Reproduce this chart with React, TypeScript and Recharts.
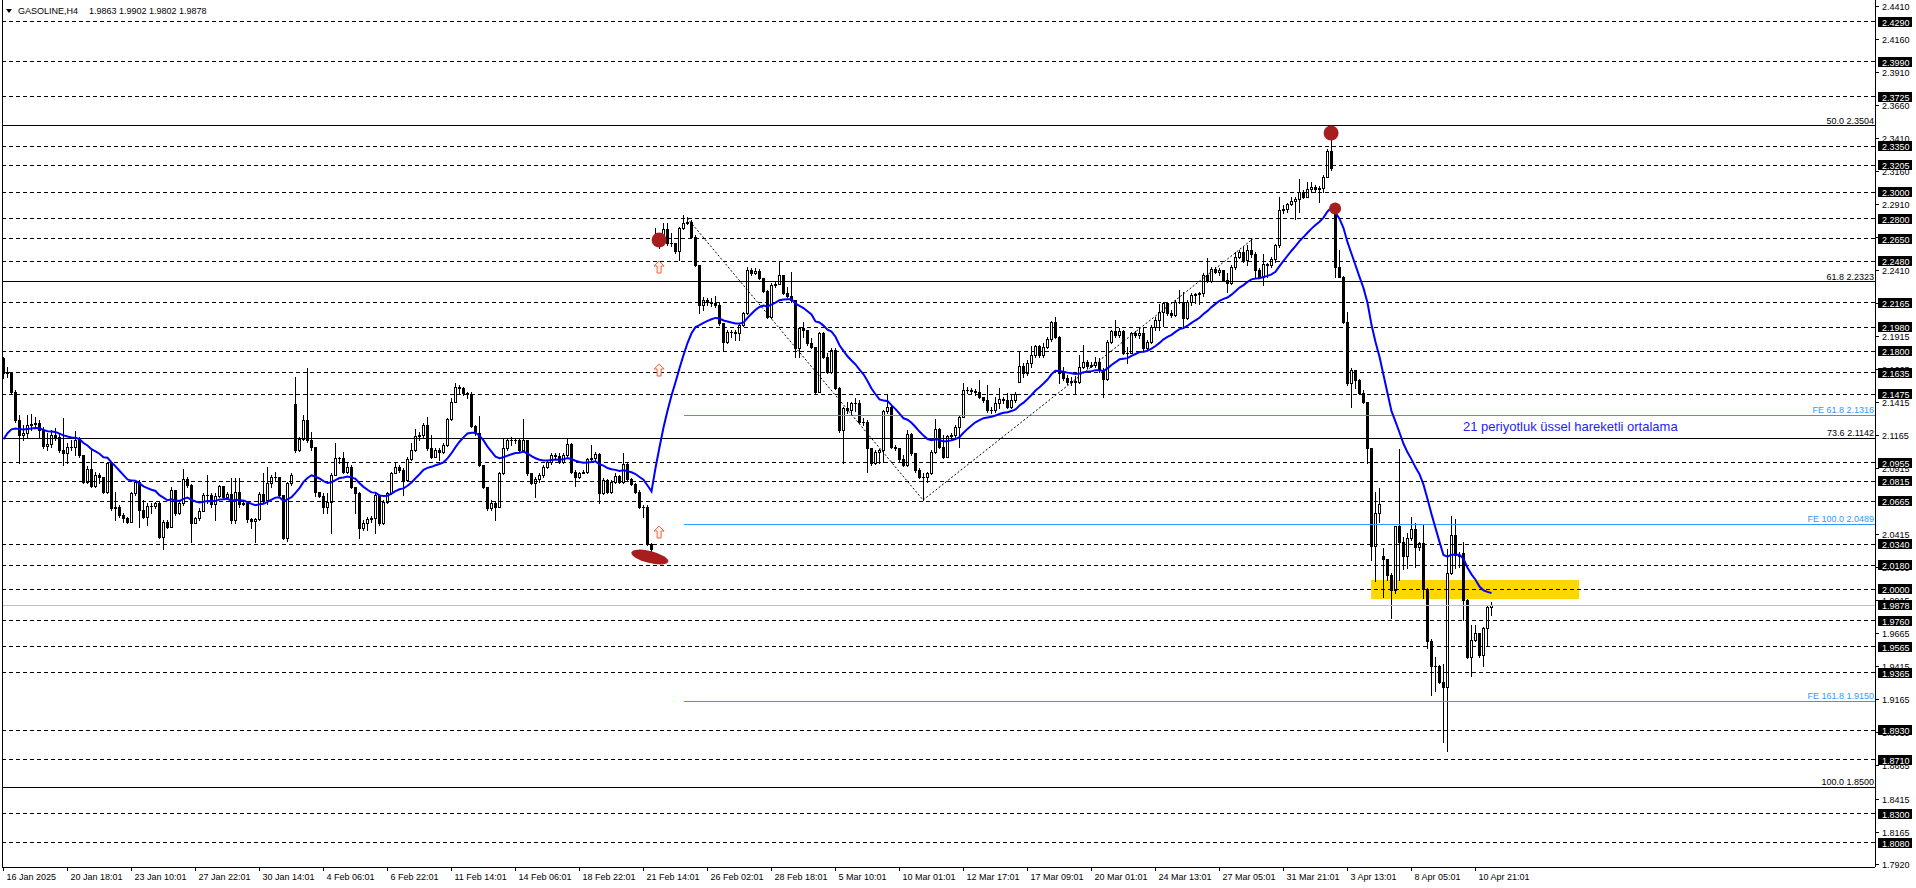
import React from 'react';
import {
  ComposedChart,
  Bar,
  Line,
  XAxis,
  YAxis,
  ReferenceLine,
  ReferenceArea,
  ReferenceDot,
} from 'recharts';

// ---------------- data (GASOLINE, H4) ----------------
const closes = [
  2.1632, 2.1639, 2.1493, 2.1279, 2.1166, 2.1178, 2.1241, 2.1249, 2.1254, 2.1203,
  2.1082, 2.1098, 2.1166, 2.1153, 2.1052, 2.1027, 2.1072, 2.1077, 2.1128, 2.1014,
  2.0813, 2.0906, 2.078, 2.0863, 2.085, 2.0737, 2.0951, 2.0611, 2.0623, 2.056,
  2.0535, 2.051, 2.0724, 2.0813, 2.0598, 2.0548, 2.0629, 2.0629, 2.0649, 2.0392,
  2.051, 2.0472, 2.075, 2.0573, 2.0649, 2.083, 2.0788, 2.0502, 2.0535, 2.0593,
  2.0712, 2.0712, 2.0644, 2.0704, 2.078, 2.0699, 2.0719, 2.0523, 2.0737, 2.0644,
  2.0649, 2.0528, 2.0518, 2.053, 2.0719, 2.0674, 2.08, 2.085, 2.0845, 2.0712,
  2.0384, 2.08, 2.0863, 2.1052, 2.1133, 2.1279, 2.1128, 2.1072, 2.0737, 2.0704,
  2.0623, 2.0661, 2.0863, 2.0989, 2.0989, 2.0888, 2.0926, 2.0775, 2.0729, 2.046,
  2.0502, 2.0528, 2.0535, 2.0712, 2.0497, 2.0661, 2.0724, 2.0881, 2.0926, 2.0901,
  2.0825, 2.0982, 2.1052, 2.1161, 2.1166, 2.1241, 2.1065, 2.1002, 2.1052, 2.104,
  2.109, 2.1284, 2.1418, 2.1531, 2.1524, 2.1481, 2.1473, 2.1234, 2.1178, 2.0939,
  2.077, 2.0611, 2.0654, 2.0623, 2.0876, 2.1065, 2.1128, 2.1128, 2.1128, 2.1052,
  2.1128, 2.0876, 2.0805, 2.083, 2.0863, 2.0926, 2.0964, 2.1014, 2.1007, 2.0964,
  2.1014, 2.1098, 2.0888, 2.085, 2.0876, 2.0888, 2.0982, 2.0989, 2.1022, 2.0724,
  2.0825, 2.0737, 2.0813, 2.0856, 2.0813, 2.0946, 2.083, 2.0795, 2.0737, 2.0623,
  2.0623, 2.0341, 2.0301, 2.2679, 2.2641, 2.2721, 2.2616, 2.2616, 2.256, 2.2729,
  2.2767, 2.2779, 2.2666, 2.2452, 2.2149, 2.2187, 2.2174, 2.2167, 2.2149, 2.2011,
  2.1872, 2.1948, 2.1948, 2.1935, 2.1998, 2.2086, 2.2414, 2.2389, 2.2406, 2.2351,
  2.2258, 2.2061, 2.2301, 2.2308, 2.2376, 2.2243, 2.2217, 2.2187, 2.1822, 2.1973,
  2.196, 2.1859, 2.1834, 2.1494, 2.194, 2.1759, 2.1645, 2.1809, 2.1519, 2.1204,
  2.1368, 2.1355, 2.1406, 2.1406, 2.1267, 2.1267, 2.1065, 2.0952, 2.104, 2.1048,
  2.1343, 2.138, 2.1078, 2.1065, 2.0982, 2.0939, 2.1174, 2.1027, 2.0901, 2.0851,
  2.0851, 2.0876, 2.104, 2.1209, 2.1078, 2.1002, 2.1154, 2.1166, 2.1229, 2.1305,
  2.1506, 2.1506, 2.1501, 2.1494, 2.1451, 2.1431, 2.1355, 2.1355, 2.1406, 2.1436,
  2.1431, 2.138, 2.1431, 2.1476, 2.1688, 2.1632, 2.1713, 2.1771, 2.1839, 2.1771,
  2.1834, 2.189, 2.2023, 2.191, 2.1632, 2.1595, 2.1569, 2.1577, 2.1569, 2.1683,
  2.1721, 2.1688, 2.1695, 2.1721, 2.1658, 2.1587, 2.1872, 2.1955, 2.1922, 2.1955,
  2.1789, 2.1789, 2.1935, 2.1922, 2.1935, 2.1821, 2.1872, 2.1985, 2.2036, 2.2099,
  2.2162, 2.2091, 2.2074, 2.2174, 2.2174, 2.2048, 2.2174, 2.2225, 2.2232, 2.2237,
  2.2376, 2.2333, 2.2419, 2.2401, 2.2414, 2.2338, 2.2313, 2.2439, 2.2515, 2.2553,
  2.249, 2.2565, 2.2535, 2.2414, 2.2364, 2.2459, 2.2452, 2.2495, 2.2603, 2.2868,
  2.2873, 2.2913, 2.2938, 2.2948, 2.3006, 2.2969, 2.3024, 2.3039, 2.3024, 2.3032,
  2.312, 2.3316, 2.3183, 2.2439, 2.2364, 2.2023, 2.1557, 2.1658, 2.1582, 2.1486,
  2.1418, 2.1065, 2.0326, 2.0573, 2.0644, 2.0226, 2.0107, 1.9994, 2.0473, 2.0359,
  2.0246, 2.0384, 2.0452, 2.0316, 2.0347, 1.9999, 1.9603, 1.9419, 1.9419, 1.93,
  1.9262, 2.012, 2.041, 2.0258, 2.0251, 1.9918, 1.9489, 1.9615, 1.9666, 1.9502,
  1.9704, 1.9863, 1.9878,
];

const highs = [
  2.1758, 2.1682, 2.1644, 2.1506, 2.1317, 2.1241, 2.1317, 2.1324, 2.1299, 2.1279,
  2.1229, 2.1178, 2.1203, 2.1216, 2.1178, 2.1292, 2.1103, 2.1128, 2.1198, 2.1153,
  2.1014, 2.0931, 2.1052, 2.0888, 2.0876, 2.085, 2.0964, 2.0951, 2.0737, 2.0636,
  2.0573, 2.0548, 2.0737, 2.0825, 2.0825, 2.0674, 2.0649, 2.0649, 2.0661, 2.0661,
  2.0523, 2.0523, 2.0775, 2.075, 2.0661, 2.0906, 2.085, 2.0795, 2.0548, 2.0611,
  2.0724, 2.0863, 2.0724, 2.0724, 2.0788, 2.0775, 2.0737, 2.0838, 2.0838, 2.0838,
  2.0674, 2.0649, 2.0535, 2.0535, 2.0737, 2.0876, 2.0926, 2.0863, 2.0888, 2.083,
  2.0712, 2.0813, 2.0876, 2.1607, 2.1153, 2.1317, 2.167, 2.1191, 2.1077, 2.0737,
  2.0724, 2.0729, 2.0876, 2.1103, 2.1002, 2.104, 2.0951, 2.0939, 2.0775, 2.0737,
  2.0523, 2.0548, 2.0553, 2.0724, 2.0712, 2.0674, 2.0737, 2.0888, 2.0951, 2.0939,
  2.0913, 2.1002, 2.1103, 2.1208, 2.1191, 2.1254, 2.1299, 2.1166, 2.1065, 2.1065,
  2.1103, 2.1292, 2.1443, 2.1561, 2.1544, 2.1531, 2.1493, 2.1493, 2.1241, 2.1309,
  2.0939, 2.075, 2.0674, 2.0661, 2.0888, 2.1133, 2.114, 2.1153, 2.114, 2.114,
  2.1284, 2.1128, 2.0881, 2.085, 2.0881, 2.0939, 2.0977, 2.1027, 2.1032, 2.1027,
  2.1027, 2.114, 2.1103, 2.0901, 2.0888, 2.0901, 2.0989, 2.109, 2.104, 2.1027,
  2.0838, 2.083, 2.0825, 2.0876, 2.0863, 2.1032, 2.0951, 2.0838, 2.08, 2.075,
  2.0636, 2.0636, 2.0346, 2.2729, 2.2696, 2.2767, 2.2767, 2.2696, 2.2621, 2.2742,
  2.283, 2.2817, 2.2792, 2.2679, 2.2452, 2.2212, 2.22, 2.22, 2.2217, 2.2162,
  2.2011, 2.196, 2.196, 2.196, 2.2011, 2.2099, 2.2439, 2.2427, 2.2427, 2.2419,
  2.2351, 2.2263, 2.2313, 2.2326, 2.2482, 2.2376, 2.2288, 2.2401, 2.2187, 2.1985,
  2.2023, 2.196, 2.1897, 2.1834, 2.1948, 2.1948, 2.1784, 2.1822, 2.1822, 2.1532,
  2.138, 2.1418, 2.1418, 2.1443, 2.1431, 2.1292, 2.1279, 2.1065, 2.1053, 2.1058,
  2.1355, 2.1469, 2.1393, 2.109, 2.1065, 2.1015, 2.1204, 2.1179, 2.1032, 2.0914,
  2.0876, 2.0889, 2.1053, 2.1285, 2.1216, 2.1166, 2.1166, 2.1184, 2.1242, 2.1317,
  2.1557, 2.1532, 2.1519, 2.1511, 2.1582, 2.1456, 2.1544, 2.138, 2.1456, 2.1519,
  2.1456, 2.1486, 2.1469, 2.1494, 2.1796, 2.1708, 2.1733, 2.1839, 2.1847, 2.1847,
  2.1859, 2.191, 2.2031, 2.2061, 2.1915, 2.1683, 2.162, 2.1607, 2.1612, 2.1771,
  2.1847, 2.1733, 2.1721, 2.1758, 2.1746, 2.167, 2.1884, 2.196, 2.2036, 2.1973,
  2.196, 2.1829, 2.1948, 2.1955, 2.1973, 2.1973, 2.1884, 2.1998, 2.2061, 2.2157,
  2.2174, 2.2111, 2.2111, 2.2187, 2.2263, 2.225, 2.2187, 2.2237, 2.2242, 2.225,
  2.2389, 2.2502, 2.2439, 2.2434, 2.2427, 2.2389, 2.2389, 2.2452, 2.2553, 2.2565,
  2.2585, 2.2603, 2.2653, 2.2553, 2.2427, 2.2535, 2.2464, 2.2515, 2.2611, 2.2964,
  2.2906, 2.2923, 2.2964, 2.2964, 2.31, 2.3019, 2.3082, 2.3082, 2.3057, 2.3049,
  2.3132, 2.3327, 2.3465, 2.2893, 2.2565, 2.2369, 2.2099, 2.167, 2.1658, 2.1587,
  2.1506, 2.1418, 2.1057, 2.0737, 2.0762, 2.0309, 2.022, 2.012, 2.0478, 2.1057,
  2.0397, 2.0422, 2.0543, 2.0503, 2.0359, 2.0485, 2.0006, 1.962, 1.9484, 1.9426,
  1.9434, 2.0301, 2.0553, 2.0528, 2.0283, 2.0352, 1.9923, 1.9729, 1.9729, 1.9671,
  1.9716, 1.9873, 1.9902,
];

const lows = [
  2.1594, 2.1607, 2.1481, 2.1266, 2.0956, 2.1128, 2.1153, 2.1203, 2.1216, 2.1153,
  2.1065, 2.1052, 2.1077, 2.1128, 2.104, 2.0939, 2.0956, 2.1052, 2.1014, 2.1002,
  2.0805, 2.08, 2.0775, 2.0775, 2.08, 2.0729, 2.0724, 2.0598, 2.0523, 2.0548,
  2.051, 2.0502, 2.051, 2.0712, 2.0472, 2.0535, 2.0485, 2.0573, 2.0611, 2.0384,
  2.0301, 2.046, 2.0472, 2.056, 2.0568, 2.0636, 2.0775, 2.0359, 2.0497, 2.0523,
  2.0593, 2.0649, 2.0623, 2.0523, 2.0699, 2.0679, 2.0687, 2.0497, 2.0497, 2.0623,
  2.0636, 2.051, 2.046, 2.0359, 2.0523, 2.0649, 2.0644, 2.077, 2.082, 2.0699,
  2.0376, 2.0366, 2.0788, 2.104, 2.1047, 2.1128, 2.1115, 2.1052, 2.0704, 2.0699,
  2.0573, 2.0573, 2.0422, 2.0863, 2.0951, 2.0876, 2.0876, 2.0762, 2.0573, 2.0384,
  2.0447, 2.0447, 2.051, 2.0422, 2.0485, 2.0492, 2.0649, 2.0719, 2.0876, 2.0888,
  2.0712, 2.082, 2.0977, 2.1047, 2.1128, 2.1153, 2.1052, 2.0989, 2.0997, 2.0977,
  2.1027, 2.1082, 2.1279, 2.1418, 2.1481, 2.1468, 2.1443, 2.1224, 2.1166, 2.0931,
  2.0762, 2.0598, 2.0598, 2.0523, 2.0618, 2.0871, 2.1052, 2.109, 2.1103, 2.104,
  2.1047, 2.0863, 2.0795, 2.0699, 2.0813, 2.085, 2.0913, 2.0946, 2.0989, 2.0956,
  2.0951, 2.1007, 2.0876, 2.078, 2.0838, 2.0876, 2.0876, 2.0972, 2.0972, 2.0649,
  2.0719, 2.0724, 2.0729, 2.0805, 2.08, 2.0805, 2.082, 2.0788, 2.0724, 2.0611,
  2.0548, 2.0334, 2.022, 2.2628, 2.2578, 2.2666, 2.2603, 2.2595, 2.2545, 2.249,
  2.2721, 2.2762, 2.2661, 2.2444, 2.2086, 2.2111, 2.2149, 2.2142, 2.2137, 2.1998,
  2.1809, 2.1864, 2.191, 2.1885, 2.1885, 2.199, 2.2081, 2.2376, 2.2384, 2.2343,
  2.225, 2.2048, 2.2048, 2.2283, 2.2326, 2.2232, 2.2207, 2.2174, 2.1759, 2.1759,
  2.191, 2.1847, 2.1822, 2.1486, 2.1494, 2.1746, 2.1637, 2.1632, 2.1511, 2.1191,
  2.0952, 2.133, 2.1317, 2.1343, 2.1254, 2.1242, 2.0889, 2.0939, 2.0947, 2.0952,
  2.0964, 2.1335, 2.1065, 2.1053, 2.0972, 2.0927, 2.0932, 2.1015, 2.0889, 2.0838,
  2.0675, 2.0806, 2.0871, 2.1032, 2.1065, 2.099, 2.0997, 2.1133, 2.1149, 2.1073,
  2.13, 2.1481, 2.1476, 2.1469, 2.1443, 2.1418, 2.1342, 2.133, 2.1342, 2.1368,
  2.1406, 2.1368, 2.1368, 2.1418, 2.1569, 2.1607, 2.162, 2.1678, 2.1758, 2.1758,
  2.1758, 2.1821, 2.188, 2.1897, 2.1557, 2.1582, 2.1552, 2.1544, 2.1481, 2.1562,
  2.167, 2.167, 2.1683, 2.1678, 2.1645, 2.1456, 2.1582, 2.1859, 2.191, 2.191,
  2.1779, 2.1713, 2.1796, 2.1905, 2.1897, 2.1809, 2.1809, 2.1859, 2.196, 2.196,
  2.199, 2.2074, 2.2061, 2.2066, 2.2162, 2.1973, 2.2041, 2.2149, 2.2162, 2.2157,
  2.2217, 2.2326, 2.2326, 2.2389, 2.2376, 2.2333, 2.225, 2.2308, 2.2419, 2.2502,
  2.2477, 2.2452, 2.2515, 2.2351, 2.2351, 2.23, 2.2364, 2.2439, 2.2477, 2.259,
  2.2848, 2.2855, 2.2906, 2.2797, 2.2855, 2.2956, 2.2964, 2.3006, 2.3006, 2.2931,
  2.3006, 2.3115, 2.317, 2.2364, 2.2359, 2.2011, 2.1544, 2.138, 2.1519, 2.1476,
  2.1406, 2.0952, 2.022, 2.0057, 2.051, 1.9938, 2.0069, 1.9779, 1.9968, 2.0069,
  2.015, 2.0157, 2.0372, 2.0165, 2.0296, 1.9931, 1.9552, 1.9199, 1.9232, 1.9288,
  1.8839, 1.8771, 2.0115, 2.0157, 2.017, 1.9767, 1.9477, 1.9343, 1.9603, 1.9484,
  1.9419, 1.9578, 1.9802,
];

// bars whose open is not the previous close (session gaps)
const gapOpenIndex = [0, 73, 163, 254, 333, 345, 365];
const gapOpenValue = [2.1745, 2.14, 2.265, 2.1569, 2.288, 2.0246, 2.0276];

// 21-period EMA, starting value
const emaPeriod = 21;
const emaStart = 2.1133;

const dateLabels = [
  '16 Jan 2025', '20 Jan 18:01', '23 Jan 10:01', '27 Jan 22:01', '30 Jan 14:01',
  '4 Feb 06:01', '6 Feb 22:01', '11 Feb 14:01', '14 Feb 06:01', '18 Feb 22:01',
  '21 Feb 14:01', '26 Feb 02:01', '28 Feb 18:01', '5 Mar 10:01', '10 Mar 01:01',
  '12 Mar 17:01', '17 Mar 09:01', '20 Mar 01:01', '24 Mar 13:01', '27 Mar 05:01',
  '31 Mar 21:01', '3 Apr 13:01', '8 Apr 05:01', '10 Apr 21:01',
];
const barsPerLabel = 16;

const priceTicks = [
  2.441, 2.416, 2.391, 2.366, 2.341, 2.316, 2.291, 2.266, 2.241, 2.216, 2.1915,
  2.1665, 2.1415, 2.1165, 2.0915, 2.0415, 2.0165, 1.9915, 1.9665, 1.9415, 1.9165,
  1.8915, 1.8665, 1.8415, 1.8165, 1.792,
];
const markedLevels = [
  2.429, 2.399, 2.3725, 2.335, 2.3205, 2.3, 2.28, 2.265, 2.248, 2.2165, 2.198, 2.18,
  2.1635, 2.1475, 2.0955, 2.0815, 2.0665, 2.034, 2.018, 2.0, 1.976, 1.9565, 1.9365,
  1.893, 1.871, 1.83, 1.808,
];
const lastPrice = 1.9878;

const fibLevels = [2.3504, 2.2323, 2.1142, 1.85];
const fibNames = ['50.0', '61.8', '73.6', '100.0'];
const feLevels = [2.1316, 2.0489, 1.915];
const feNames = ['FE 61.8', 'FE 100.0', 'FE 161.8'];
const feStartBar = 170;
const fePointX = [170.9, 229.9, 312.4];
const fePointY = [2.2807, 2.0673, 2.265];

const zoneX = [341.9, 393.9];
const zoneY = [1.9924, 2.0068];

const blobX = [163.9, 331.9, 332.9];
const blobY = [2.264, 2.345, 2.2879];
const blobR = [7.5, 7.5, 6];
const ovalX = 161.6;
const ovalY = 2.0242;
const arrowX = [163.9, 163.9, 163.9];
const arrowY = [2.2436, 2.1657, 2.0431];

// ---------------- layout constants ----------------
const W = 1916;
const H = 888;
const X_MIN = -0.375;
const X_MAX = 467.875;
const Y_MIN = 1.7897;
const Y_MAX = 2.4456;
const FONT = '"Liberation Sans", Arial, Helvetica, sans-serif';
const FE_BLUE = '#3399ff';
const RED = '#a81e1e';

type Row = { i: number; o: number; h: number; l: number; c: number; ema: number };
const data: Row[] = [];
{
  let e = emaStart;
  const k = 2 / (emaPeriod + 1);
  closes.forEach((c, i) => {
    const g = gapOpenIndex.indexOf(i);
    const o = g >= 0 ? gapOpenValue[g] : closes[i - 1];
    if (i > 0) e = e + k * (c - e);
    data.push({ i, o, h: highs[i], l: lows[i], c, ema: e });
  });
}
const boxedLevels = [...markedLevels, lastPrice];
const xTicks = dateLabels.map((_, k) => k * barsPerLabel);
const yTicks = [...priceTicks, ...boxedLevels];

function Candle(props: any) {
  const { x, y, width, height, payload } = props;
  if (!payload || x == null || y == null) return null;
  const { o, h, l, c } = payload as Row;
  const top = Math.min(y, y + height);
  const bot = Math.max(y, y + height);
  const py = (v: number) => top + ((h - v) / (h - l)) * (bot - top);
  const cx = Math.floor(x + width / 2);
  const yHi = Math.round(py(Math.max(h, o, c)));
  const yLo = Math.round(py(Math.min(l, o, c)));
  const yO = Math.round(py(o));
  const yC = Math.round(py(c));
  const els: React.ReactNode[] = [
    <rect key="w" x={cx} y={yHi} width={1} height={Math.max(1, yLo - yHi + 1)} fill="#000" />,
  ];
  if (c > o) {
    els.push(<rect key="b" x={cx - 1} y={yC} width={3} height={yO - yC + 1} fill="#000" />);
    if (yO - yC >= 2)
      els.push(<rect key="i" x={cx} y={yC + 1} width={1} height={yO - yC - 1} fill="#fff" />);
  } else {
    els.push(
      <rect key="b" x={cx - 1} y={yO} width={3} height={Math.max(1, yC - yO + 1)} fill="#000" />
    );
  }
  return <g>{els}</g>;
}

function RightTick(props: any) {
  const { x, y, payload } = props;
  const v = payload.value as number;
  const label = v.toFixed(4);
  if (boxedLevels.includes(v)) {
    const yy = Math.round(y);
    return (
      <g>
        <rect x={x + 3} y={yy - 5} width={34} height={10} fill="#000" />
        <text x={x + 7} y={yy + 3.5} fontSize={9} fontFamily={FONT} fill="#fff">
          {label}
        </text>
      </g>
    );
  }
  const yy = Math.round(y) + 0.5;
  return (
    <g>
      <line x1={x} x2={x + 4} y1={yy} y2={yy} stroke="#000" strokeWidth={1} />
      <text x={x + 7} y={yy + 3.5} fontSize={9} fontFamily={FONT} fill="#000">
        {label}
      </text>
    </g>
  );
}

function BottomTick(props: any) {
  const { x, y, payload } = props;
  const idx = xTicks.indexOf(payload.value);
  const xx = Math.floor(x) + 0.5;
  return (
    <g>
      <line x1={xx} x2={xx} y1={y} y2={y + 4} stroke="#000" strokeWidth={1} />
      <text x={xx + 3} y={y + 13} fontSize={9} fontFamily={FONT} fill="#000">
        {dateLabels[idx]}
      </text>
    </g>
  );
}

const levelText = (text: string, color: string) => (p: any) => (
  <text x={p.cx - 1} y={p.cy - 2} textAnchor="end" fontSize={9} fontFamily={FONT} fill={color}>
    {text}
  </text>
);

const arrowShape = (p: any) => {
  const { cx, cy } = p;
  const pts = [
    [0, -6],
    [5, -1],
    [2, -1],
    [2, 6],
    [-2, 6],
    [-2, -1],
    [-5, -1],
  ]
    .map(([a, b]) => `${cx + a},${cy + b}`)
    .join(' ');
  return <polygon points={pts} fill="#fff3ec" stroke="#f0603c" strokeWidth={1} />;
};

const ovalShape = (p: any) => (
  <ellipse
    cx={p.cx}
    cy={p.cy}
    rx={19}
    ry={6}
    fill={RED}
    transform={`rotate(14 ${p.cx} ${p.cy})`}
  />
);

export default function App() {
  return (
    <div
      style={{
        position: 'absolute',
        left: 0,
        top: 0,
        width: W,
        height: H,
        background: '#fff',
        overflow: 'hidden',
      }}
    >
      <ComposedChart
        width={W}
        height={H}
        data={data}
        margin={{ top: 0, right: 0, bottom: 0, left: 2 }}
      >
        <XAxis
          dataKey="i"
          type="number"
          domain={[X_MIN, X_MAX]}
          allowDataOverflow
          ticks={xTicks}
          interval={0}
          tick={<BottomTick />}
          tickLine={false}
          tickSize={0}
          tickMargin={0}
          height={21}
          axisLine={{ stroke: '#000', strokeWidth: 1, shapeRendering: 'crispEdges' }}
        />
        <YAxis
          orientation="right"
          type="number"
          domain={[Y_MIN, Y_MAX]}
          allowDataOverflow
          ticks={yTicks}
          interval={0}
          tick={<RightTick />}
          tickLine={false}
          tickSize={0}
          tickMargin={0}
          width={41}
          axisLine={{ stroke: '#000', strokeWidth: 1, shapeRendering: 'crispEdges' }}
        />

        <ReferenceArea
          x1={zoneX[0]}
          x2={zoneX[1]}
          y1={zoneY[0]}
          y2={zoneY[1]}
          fill="#ffd700"
          fillOpacity={1}
          stroke="none"
        />

        {markedLevels.map((v) => (
          <ReferenceLine
            key={'d' + v}
            y={v}
            stroke="#000"
            strokeWidth={1}
            strokeDasharray="4 3"
            shapeRendering="crispEdges"
          />
        ))}
        <ReferenceLine y={lastPrice} stroke="#c0c0c0" strokeWidth={1} shapeRendering="crispEdges" />
        {fibLevels.map((v) => (
          <ReferenceLine key={'f' + v} y={v} stroke="#000" strokeWidth={1} shapeRendering="crispEdges" />
        ))}
        {feLevels.map((v) => (
          <ReferenceLine
            key={'e' + v}
            segment={[
              { x: feStartBar, y: v },
              { x: X_MAX, y: v },
            ]}
            stroke={FE_BLUE}
            strokeWidth={1}
            shapeRendering="crispEdges"
          />
        ))}
        <ReferenceLine
          segment={[
            { x: fePointX[0], y: fePointY[0] },
            { x: fePointX[1], y: fePointY[1] },
          ]}
          stroke="#000"
          strokeWidth={1}
          strokeDasharray="2 2"
        />
        <ReferenceLine
          segment={[
            { x: fePointX[1], y: fePointY[1] },
            { x: fePointX[2], y: fePointY[2] },
          ]}
          stroke="#000"
          strokeWidth={1}
          strokeDasharray="2 2"
        />

        <Bar
          dataKey={(d: Row) => [d.l, d.h]}
          barSize={3}
          shape={(p: any) => <Candle {...p} />}
          isAnimationActive={false}
        />
        <Line
          dataKey="ema"
          type="linear"
          stroke="#0000ff"
          strokeWidth={2}
          dot={false}
          activeDot={false}
          isAnimationActive={false}
        />

        {fibLevels.map((v, k) => (
          <ReferenceDot
            key={'fl' + v}
            x={X_MAX}
            y={v}
            r={0}
            shape={levelText(`${fibNames[k]} ${v.toFixed(4)}`, '#000')}
          />
        ))}
        {feLevels.map((v, k) => (
          <ReferenceDot
            key={'el' + v}
            x={X_MAX}
            y={v}
            r={0}
            shape={levelText(`${feNames[k]} ${v.toFixed(4)}`, FE_BLUE)}
          />
        ))}

        <ReferenceDot x={ovalX} y={ovalY} r={6} shape={ovalShape} />
        {blobX.map((x, k) => (
          <ReferenceDot key={'b' + k} x={x} y={blobY[k]} r={blobR[k]} fill={RED} stroke="none" />
        ))}
        {arrowX.map((x, k) => (
          <ReferenceDot key={'a' + k} x={x} y={arrowY[k]} r={5} shape={arrowShape} />
        ))}
      </ComposedChart>

      {/* left frame */}
      <div style={{ position: 'absolute', left: 2, top: 0, width: 1, height: 868, background: '#000' }} />

      {/* title */}
      <svg style={{ position: 'absolute', left: 0, top: 0 }} width={20} height={20}>
        <polygon points="6,9 12,9 9,13" fill="#000" />
      </svg>
      <div
        style={{
          position: 'absolute',
          left: 18,
          top: 6,
          fontFamily: FONT,
          fontSize: 9,
          lineHeight: '10px',
          color: '#000',
          whiteSpace: 'nowrap',
        }}
      >
        GASOLINE,H4
      </div>
      <div
        style={{
          position: 'absolute',
          left: 89,
          top: 6,
          fontFamily: FONT,
          fontSize: 9,
          lineHeight: '10px',
          color: '#000',
          whiteSpace: 'nowrap',
        }}
      >
        1.9863 1.9902 1.9802 1.9878
      </div>

      {/* indicator note */}
      <div
        style={{
          position: 'absolute',
          left: 1463,
          top: 419,
          fontFamily: FONT,
          fontSize: 13,
          lineHeight: '15px',
          color: '#2323ff',
          whiteSpace: 'nowrap',
        }}
      >
        21 periyotluk üssel hareketli ortalama
      </div>
    </div>
  );
}
